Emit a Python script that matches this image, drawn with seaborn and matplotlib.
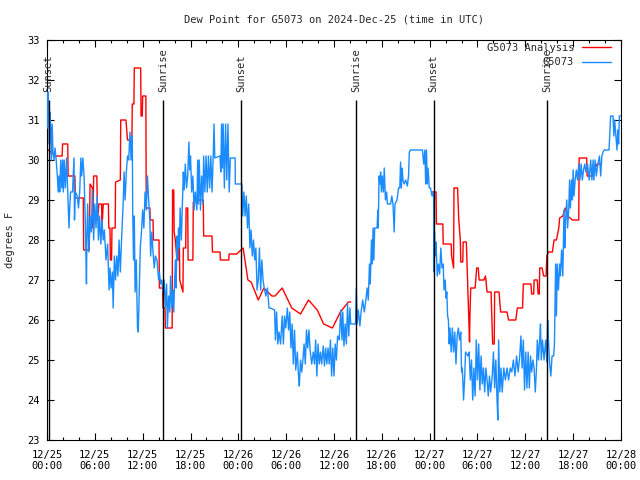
import numpy as np
import pandas as pd
import matplotlib
matplotlib.use("Agg")
import matplotlib.pyplot as plt
import seaborn as sns
from matplotlib.ticker import MultipleLocator
from matplotlib.lines import Line2D

# times are hours after 2024-12-25 00:00 UTC, values in degrees F
title = "Dew Point for G5073 on 2024-Dec-25 (time in UTC)"
station = "G5073"

obs_hours = [
    0.00, 0.05, 0.12, 0.20, 0.30, 0.38, 0.46, 0.55, 0.65, 0.75,
    0.88, 1.00, 1.15, 1.30, 1.40, 1.50, 1.60, 1.72, 1.85, 1.95,
    2.05, 2.15, 2.30, 2.45, 2.60, 2.76, 2.85, 2.95, 3.20, 3.39,
    3.45, 3.55, 3.80, 3.95, 4.10, 4.25, 4.35, 4.50, 4.65, 4.80,
    4.95, 5.00, 5.10, 5.25, 5.40, 5.55, 5.70, 5.85, 6.00, 6.15,
    6.30, 6.45, 6.60, 6.75, 6.90, 7.05, 7.20, 7.40, 7.60, 7.79,
    7.90, 8.05, 8.20, 8.30, 8.45, 8.60, 8.75, 8.90, 9.04, 9.20,
    9.35, 9.55, 9.67, 9.80, 9.95, 10.10, 10.25, 10.40, 10.55, 10.70,
    10.75, 10.85, 10.95, 11.05, 11.20, 11.35, 11.45, 11.55, 11.70, 11.85,
    12.00, 12.15, 12.30, 12.45, 12.60, 12.75, 12.90, 13.00, 13.15, 13.30,
    13.45, 13.60, 13.80, 14.00, 14.10, 14.25, 14.40, 14.55, 14.70, 14.85,
    15.00, 15.10, 15.25, 15.40, 15.50, 15.65, 15.80, 15.90, 16.00, 16.10,
    16.20, 16.30, 16.40, 16.50, 16.60, 16.70, 16.85, 17.00, 17.10, 17.20,
    17.35, 17.50, 17.65, 17.80, 17.90, 18.00, 18.15, 18.30, 18.45, 18.60,
    18.80, 18.90, 19.00, 19.10, 19.25, 19.40, 19.55, 19.65, 19.80, 19.95,
    20.10, 20.25, 20.40, 20.55, 20.70, 20.85, 20.95, 21.05, 21.70, 21.80,
    21.90, 22.00, 22.10, 22.25, 22.40, 22.55, 22.70, 22.85, 23.00, 23.60,
    23.62, 24.45, 24.55, 24.70, 24.85, 25.00, 25.15, 25.30, 25.45, 25.60,
    25.75, 25.90, 26.05, 26.20, 26.35, 26.50, 26.65, 26.80, 26.95, 27.10,
    27.25, 27.45, 27.65, 27.85, 28.00, 28.55, 28.65, 28.80, 28.95, 29.10,
    29.30, 29.50, 29.65, 29.80, 29.95, 30.15, 30.30, 30.45, 30.60, 30.75,
    30.90, 31.05, 31.20, 31.40, 31.55, 31.65, 31.80, 31.95, 32.10, 32.25,
    32.40, 32.55, 32.70, 32.85, 33.00, 33.20, 33.40, 33.55, 33.70, 33.85,
    34.00, 34.15, 34.30, 34.45, 34.65, 34.80, 34.95, 35.10, 35.25, 35.40,
    35.55, 35.70, 35.85, 36.00, 36.15, 36.30, 36.45, 36.65, 36.85, 37.00,
    37.10, 37.25, 37.40, 37.55, 37.70, 37.85, 38.00, 38.10, 38.70, 38.80,
    38.90, 39.05, 39.25, 39.40, 39.60, 39.80, 40.00, 40.15, 40.30, 40.45,
    40.55, 40.70, 40.80, 40.90, 41.00, 41.10, 41.40, 41.50, 41.55, 41.65,
    41.75, 41.85, 41.95, 42.05, 42.20, 42.30, 42.45, 42.60, 42.70, 43.10,
    43.25, 43.40, 43.55, 43.65, 43.90, 44.10, 44.25, 44.35, 44.45, 44.55,
    44.65, 44.80, 45.00, 45.20, 45.35, 45.45, 45.60, 47.10, 47.25, 47.40,
    47.50, 47.60, 47.70, 47.80, 47.95, 48.10, 48.30, 48.50, 48.55, 48.60,
    48.70, 48.80, 48.95, 49.10, 49.25, 49.40, 49.55, 49.70, 49.80, 49.95,
    50.05, 50.15, 50.25, 50.35, 50.45, 50.55, 50.70, 50.85, 51.00, 51.15,
    51.30, 51.45, 51.60, 51.75, 51.90, 52.00, 52.10, 52.25, 52.40, 52.50,
    52.80, 52.95, 53.10, 53.25, 53.40, 53.55, 53.70, 53.85, 54.00, 54.15,
    54.30, 54.45, 54.60, 54.75, 54.90, 55.05, 55.20, 55.35, 55.50, 55.65,
    55.85, 56.00, 56.15, 56.30, 56.45, 56.55, 56.65, 56.80, 56.95, 57.10,
    57.30, 57.50, 57.70, 57.90, 58.10, 58.30, 58.50, 58.70, 58.90, 59.10,
    59.30, 59.45, 59.60, 59.75, 59.90, 60.05, 60.20, 60.35, 60.50, 60.65,
    60.80, 60.95, 61.10, 61.25, 61.40, 61.50, 61.65, 61.80, 61.90, 62.00,
    62.15, 62.35, 62.55, 62.70, 62.80, 62.90, 63.05, 63.20, 63.35, 63.55,
    63.65, 63.80, 63.90, 64.00, 64.15, 64.30, 64.40, 64.55, 64.70, 64.85,
    64.95, 65.05, 65.20, 65.30, 65.45, 65.55, 65.65, 65.80, 65.90, 66.00,
    66.10, 66.25, 66.40, 66.55, 66.70, 66.85, 67.00, 67.15, 67.30, 67.45,
    67.60, 67.80, 68.00, 68.20, 68.35, 68.50, 68.60, 68.75, 68.90, 69.10,
    69.30, 69.45, 69.60, 69.75, 69.90, 70.50, 70.60, 70.70, 70.80, 71.00,
    71.10, 71.20, 71.40, 71.50, 71.60, 71.70, 71.80, 72.00,
]
obs_dewpt = [
    31.6, 30.8, 31.7, 31.3, 30.4, 31.2, 30.8, 30.0, 30.9, 30.2,
    30.0, 30.3, 30.0, 29.6, 29.2, 29.6, 29.2, 30.0, 29.3, 30.0,
    29.2, 30.0, 29.3, 30.05, 29.2, 28.3, 28.8, 29.2, 29.2, 30.05,
    28.5, 29.2, 29.1, 28.8, 29.2, 30.05, 29.6, 30.05, 29.6, 28.5,
    26.9, 28.0, 28.9, 27.7, 28.6, 28.2, 29.25, 28.0, 28.9, 28.3,
    29.1, 28.0, 28.6, 27.9, 28.5, 28.0, 28.25, 27.5, 27.9, 26.75,
    27.3, 26.8, 27.2, 26.3, 27.6, 27.0, 27.6, 27.1, 28.0, 27.2,
    28.0, 28.9, 29.7, 29.0, 29.7, 30.1, 30.0, 30.7, 30.0, 30.6,
    28.75, 27.5, 28.6, 26.7, 27.5, 25.8, 25.7, 26.5, 27.8, 28.2,
    28.75, 28.3, 29.2, 28.75, 29.6, 29.0, 28.5, 27.6, 28.2, 27.7,
    27.3, 27.6, 27.5, 27.0, 27.2, 26.9, 27.0, 26.7, 27.0, 26.3,
    26.9, 25.8, 26.6, 26.2, 27.1, 26.3, 26.75, 26.2, 26.9, 27.5,
    26.8, 28.1, 27.5, 28.3, 27.8, 28.8, 28.0, 29.0, 29.7, 29.25,
    29.9, 29.3, 29.6, 30.45, 29.75, 30.1, 29.2, 29.6, 28.75, 29.2,
    28.75, 30.0, 28.9, 30.0, 28.75, 29.6, 28.9, 30.1, 29.2, 30.1,
    29.2, 30.1, 29.3, 30.1, 29.2, 30.1, 30.9, 30.05, 30.1, 29.7,
    30.9, 29.8, 30.9, 29.3, 30.9, 29.5, 30.9, 29.2, 30.05, 30.05,
    29.4, 29.4, 28.6, 29.2, 28.6, 29.1, 28.3, 28.9, 27.8, 28.25,
    27.6, 28.0, 27.5, 27.8, 26.75, 27.0, 27.8, 26.75, 27.5, 27.0,
    26.8, 26.6, 26.8, 26.3, 26.3, 26.25, 25.5, 26.2, 25.4, 25.7,
    25.4, 26.1, 25.4, 26.1, 25.8, 26.3, 25.75, 26.2, 25.3, 25.9,
    24.9, 25.75, 24.75, 25.2, 24.6, 24.35, 25.0, 24.7, 25.0, 25.4,
    24.9, 25.75, 25.3, 25.75, 25.25, 24.9, 25.2, 24.9, 25.5, 24.6,
    25.4, 24.9, 25.2, 24.9, 25.35, 24.85, 25.3, 24.9, 25.3, 24.9,
    25.5, 24.6, 25.3, 24.6, 25.4, 25.0, 25.6, 25.5, 26.25, 25.5,
    26.2, 25.35, 25.9, 25.4, 26.4, 25.6, 26.3, 25.9, 25.9, 26.8,
    25.9, 26.25, 25.85, 26.2, 26.5, 26.2, 26.5, 26.8, 26.5, 27.4,
    26.9, 28.0, 27.4, 28.3, 27.5, 28.3, 28.3, 28.75, 28.3, 29.6,
    29.4, 29.7, 29.2, 29.6, 29.2, 29.8, 29.0, 29.2, 28.9, 28.9,
    29.1, 28.9, 28.2, 28.9, 29.0, 29.3, 29.3, 29.95, 29.3, 29.8,
    29.5, 29.4, 29.5, 29.35, 29.6, 30.2, 30.25, 30.25, 29.9, 30.25,
    29.4, 30.25, 29.4, 29.8, 29.3, 29.3, 29.1, 29.2, 27.2, 28.2,
    27.6, 27.95, 27.1, 27.4, 27.15, 27.8, 27.3, 27.4, 26.75, 27.0,
    26.55, 26.7, 26.1, 26.0, 25.4, 25.8, 25.2, 25.8, 25.2, 25.7,
    24.9, 25.6, 25.8, 25.5, 25.7, 24.7, 24.8, 24.0, 24.6, 25.2,
    25.1, 25.2, 24.5, 25.0, 24.0, 24.8, 24.1, 25.5, 24.5, 25.4,
    24.25, 25.1, 24.4, 24.8, 24.2, 24.8, 24.5, 24.1, 24.6, 24.2,
    24.6, 25.2, 24.3, 25.0, 24.0, 23.5, 25.5, 24.2, 24.8, 24.2,
    24.8, 24.5, 24.8, 24.5, 24.8, 24.7, 25.0, 24.6, 25.1, 24.7,
    25.1, 25.6, 24.8, 25.5, 24.25, 25.2, 24.3, 25.2, 24.3, 25.1,
    24.7, 25.0, 24.8, 24.2, 24.8, 25.5, 25.0, 25.5, 25.9, 25.0,
    25.5, 25.0, 25.5, 24.95, 26.0, 25.5, 24.9, 24.6, 25.1, 25.1,
    25.4, 27.4, 26.1, 27.4, 26.75, 27.4, 27.1, 27.75, 27.1, 28.75,
    27.8, 28.5, 29.0, 28.3, 28.8, 29.5, 28.8, 29.5, 29.0, 29.75,
    29.1, 29.5, 29.75, 29.5, 29.9, 29.5, 29.9, 29.5, 29.75, 29.9,
    29.7, 29.9, 29.5, 30.0, 29.5, 30.0, 29.5, 30.0, 29.6, 29.9,
    30.1, 29.6, 30.1, 30.2, 30.25, 30.25, 30.7, 31.1, 31.1, 31.1,
    30.6, 31.0, 30.5, 30.25, 30.75, 30.4, 31.1, 31.1,
]

# analysis series, NaN marks the gap with no analysis
ana_hours = [
    0.0, 0.5, 1.0, 1.9, 1.95, 2.6, 2.65, 3.5, 3.55, 4.55,
    4.6, 5.3, 5.4, 5.7, 5.75, 5.85, 6.25, 6.35, 6.5, 6.85,
    6.9, 7.05, 7.7, 7.75, 7.9, 7.95, 8.1, 8.15, 8.55, 8.6,
    9.2, 9.25, 9.9, 10.1, 10.65, 10.7, 10.9, 10.95, 11.75, 11.8,
    11.95, 12.0, 12.4, 12.45, 12.9, 12.95, 13.3, 13.35, 14.05, 14.1,
    14.5, 14.55, 14.8, 14.85, 15.7, 15.75, 15.9, 15.95, 16.1, 16.3,
    16.45, 16.5, 16.6, 16.65, 17.05, 17.1, 17.4, 17.45, 17.65, 17.7,
    18.3, 18.35, 18.8, 19.6, 19.65, 20.7, 20.75, 21.7, 21.75, 22.8,
    22.85, 23.8, 24.6, 25.2, 25.6, 26.5, 27.2, 28.2, 28.6, 29.5,
    30.7, 31.8, 32.8, 33.9, 34.7, 35.8, 36.8, 37.8, 38.1, 43.0,
    48.3, 48.8, 48.85, 49.65, 49.7, 50.7, 50.75, 51.0, 51.05, 51.5,
    51.65, 51.85, 51.9, 52.15, 52.2, 52.6, 52.8, 53.0, 53.05, 53.15,
    53.7, 53.9, 54.1, 54.2, 54.8, 55.0, 55.2, 55.7, 55.8, 55.9,
    56.1, 56.15, 56.7, 56.9, 57.7, 57.9, 58.8, 59.0, 59.65, 59.75,
    60.7, 60.8, 61.05, 61.1, 61.5, 61.6, 61.75, 61.8, 62.1, 62.3,
    62.6, 62.7, 62.9, 63.4, 63.6, 63.9, 64.2, 64.3, 64.7, 65.0,
    65.3, 65.9, 66.7, 66.75, 67.7, 67.75, 68.4, 68.5, 69.0, 69.5,
]
ana_dewpt = [
    30.27, 30.2, 30.1, 30.1, 30.4, 30.4, 29.6, 29.6, 29.05, 29.05,
    27.75, 27.75, 29.4, 29.3, 28.3, 29.6, 29.6, 28.5, 28.9, 28.9,
    28.3, 28.9, 28.9, 28.3, 28.3, 27.5, 27.5, 28.3, 28.3, 29.45,
    29.5, 31.0, 31.0, 30.5, 30.5, 31.4, 31.4, 32.3, 32.3, 31.1,
    31.1, 31.6, 31.6, 28.8, 28.8, 28.5, 28.5, 28.0, 28.0, 26.8,
    26.8, 26.3, 26.3, 25.8, 25.8, 29.25, 29.25, 28.2, 28.0, 27.5,
    27.5, 28.1, 28.1, 27.0, 26.7, 27.8, 27.8, 28.8, 28.8, 27.5,
    27.5, 28.95, 29.0, 29.0, 28.1, 28.1, 27.7, 27.7, 27.5, 27.5,
    27.65, 27.65, 27.8, 27.0, 26.95, 26.5, 26.8, 26.6, 26.6, 26.8,
    26.3, 26.15, 26.5, 26.25, 25.9, 25.8, 26.2, 26.45, 26.45, np.nan,
    29.2, 29.2, 28.4, 28.4, 27.9, 27.9, 27.6, 27.3, 29.3, 29.3,
    28.5, 28.0, 27.45, 27.45, 27.95, 27.95, 26.7, 25.45, 26.1, 26.8,
    26.8, 27.3, 27.3, 27.0, 27.0, 27.1, 26.7, 26.7, 26.05, 25.4,
    25.4, 26.7, 26.7, 26.2, 26.2, 26.0, 26.0, 26.3, 26.3, 26.9,
    26.9, 26.65, 26.65, 27.0, 27.0, 26.65, 26.65, 27.3, 27.3, 27.1,
    27.1, 27.6, 27.7, 27.7, 28.0, 28.0, 28.3, 28.55, 28.6, 28.8,
    28.6, 28.5, 28.5, 30.05, 30.05, 29.6, 29.6, 29.7, 29.9, 29.9,
]

sun_hours = [0.19, 14.6, 24.37, 38.75, 48.5, 62.75]
sun_labels = ["Sunset", "Sunrise", "Sunset", "Sunrise", "Sunset", "Sunrise"]

x_ticks = list(range(0, 73, 6))
x_tick_labels = ["12/25\n00:00", "12/25\n06:00", "12/25\n12:00", "12/25\n18:00",
                 "12/26\n00:00", "12/26\n06:00", "12/26\n12:00", "12/26\n18:00",
                 "12/27\n00:00", "12/27\n06:00", "12/27\n12:00", "12/27\n18:00",
                 "12/28\n00:00"]
y_ticks = list(range(23, 34))

red = "#ff0000"
blue = "#1a8cff"

sns.set_style("ticks")
plt.rcParams["font.family"] = ["DejaVu Sans Mono"]
plt.rcParams["font.size"] = 7.5

obs = pd.DataFrame({"hours": obs_hours, "dewpt": obs_dewpt})
ana = pd.DataFrame({"hours": ana_hours, "dewpt": ana_dewpt})
ana["seg"] = ana["dewpt"].isna().cumsum()
ana = ana.dropna()

fig = plt.figure(figsize=(6.4, 4.8), dpi=100)
ax = fig.add_axes([47 / 640, 40 / 480, 574 / 640, 400 / 480])

for seg, part in ana.groupby("seg"):
    sns.lineplot(data=part, x="hours", y="dewpt", ax=ax, color=red,
                 linewidth=1.0, sort=False, estimator=None, zorder=2)
sns.lineplot(data=obs, x="hours", y="dewpt", ax=ax, color=blue,
             linewidth=1.0, sort=False, estimator=None, zorder=3)

ax.vlines(sun_hours, 23, 31.5, color="black", linewidth=1.0, zorder=4)
for h, lab in zip(sun_hours, sun_labels):
    ax.text(h, 31.7, lab, rotation=90, ha="center", va="bottom", zorder=5)

ax.set_xlim(0, 72)
ax.set_ylim(23, 33)
ax.set_xticks(x_ticks)
ax.set_xticklabels(x_tick_labels)
ax.xaxis.set_minor_locator(MultipleLocator(2))
ax.set_yticks(y_ticks)
ax.set_xlabel("")
ax.set_ylabel("")
ax.tick_params(which="both", direction="in", top=True, right=True,
               width=0.8, colors="black")
ax.tick_params(which="major", length=5)
ax.tick_params(which="minor", length=2.5)
ax.tick_params(axis="x", pad=7)
ax.tick_params(axis="y", pad=5)
for s in ax.spines.values():
    s.set_linewidth(0.8)
    s.set_color("black")

handles = [Line2D([], [], color=red, linewidth=1.0),
           Line2D([], [], color=blue, linewidth=1.0)]
ax.legend(handles, [station + " Analysis", station], loc="upper right",
          bbox_to_anchor=(0.982, 0.993), frameon=False, markerfirst=False,
          borderpad=0, borderaxespad=0, handlelength=2.8,
          handletextpad=0.7, labelspacing=0.45)

fig.text(334 / 640, 1 - 20 / 480, title, ha="center", va="center")
fig.text(10 / 640, 0.5, "degrees F", rotation=90, ha="center", va="center")

fig.savefig("out.png", dpi=100)
